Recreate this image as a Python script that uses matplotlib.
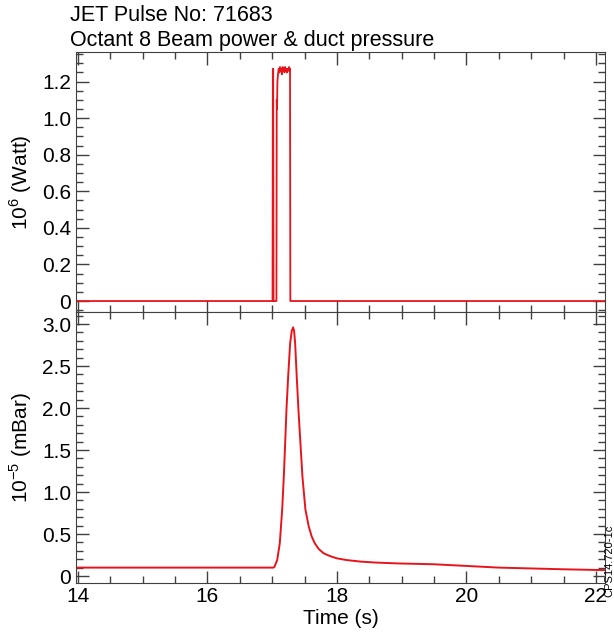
import numpy as np
import matplotlib
matplotlib.use('Agg')
import matplotlib.pyplot as plt
from matplotlib.ticker import MultipleLocator, FuncFormatter

plt.rcParams['font.family'] = ['Liberation Sans', 'DejaVu Sans']
plt.rcParams['mathtext.fontset'] = 'custom'
plt.rcParams['mathtext.rm'] = 'Liberation Sans'

# Beam power (10^6 W)
power_t = [13.97, 17.005, 17.01, 17.015, 17.02, 17.065, 17.07, 17.075, 17.08, 17.09,
           17.10, 17.11, 17.12, 17.13, 17.14, 17.15, 17.16, 17.17, 17.18, 17.19,
           17.20, 17.21, 17.22, 17.23, 17.24, 17.25, 17.26, 17.27, 17.275, 17.28, 22.14]
power_v = [0.0, 0.0, 1.27, 1.27, 0.0, 0.0, 1.10, 1.05, 1.20, 1.24,
           1.27, 1.25, 1.28, 1.26, 1.27, 1.24, 1.28, 1.26, 1.27, 1.25,
           1.28, 1.26, 1.27, 1.25, 1.27, 1.26, 1.28, 1.26, 1.27, 0.0, 0.0]

# Duct pressure (10^-5 mBar)
press_t = [13.97, 15.0, 16.0, 16.9, 17.02, 17.035, 17.077, 17.117, 17.154, 17.179,
           17.200, 17.220, 17.246, 17.277, 17.302, 17.323, 17.338, 17.354, 17.379,
           17.405, 17.436, 17.467, 17.513, 17.564, 17.61, 17.657, 17.72, 17.795,
           17.9, 18.0, 18.15, 18.36, 18.6, 18.93, 19.49, 20.0, 20.5, 21.0, 21.5, 22.14]
press_v = [0.10, 0.10, 0.10, 0.10, 0.10, 0.11, 0.19, 0.39, 0.79, 1.18,
           1.58, 1.98, 2.37, 2.77, 2.92, 2.96, 2.92, 2.77, 2.37,
           1.98, 1.58, 1.18, 0.79, 0.59, 0.47, 0.39, 0.32, 0.27,
           0.235, 0.21, 0.19, 0.172, 0.16, 0.15, 0.14, 0.12, 0.10, 0.09, 0.08, 0.07]

line_col = '#e8141c'
axis_col = '#404040'

fig = plt.figure(figsize=(6.14, 6.37), dpi=100)
ax1 = fig.add_axes([0.1238, 0.5102, 0.8616, 0.4082])
ax2 = fig.add_axes([0.1238, 0.0848, 0.8616, 0.4254])

ax1.plot(power_t, power_v, color=line_col, lw=1.3)
ax2.plot(press_t, press_v, color=line_col, lw=1.4)

fmt = FuncFormatter(lambda v, p: '0' if abs(v) < 1e-9 else '%.1f' % v)

for ax in (ax1, ax2):
    ax.set_xlim(13.97, 22.14)
    ax.xaxis.set_major_locator(MultipleLocator(2))
    ax.xaxis.set_minor_locator(MultipleLocator(0.5))
    ax.tick_params(which='both', direction='in', top=True, right=True,
                   color=axis_col, labelsize=15, width=1)
    ax.tick_params(which='major', length=9)
    ax.tick_params(which='minor', length=5)
    ax.yaxis.set_major_formatter(fmt)
    for s in ax.spines.values():
        s.set_color(axis_col)

ax1.set_ylim(-0.06, 1.362)
ax1.yaxis.set_major_locator(MultipleLocator(0.2))
ax1.yaxis.set_minor_locator(MultipleLocator(0.05))
ax1.tick_params(labelbottom=False)
ax1.set_ylabel('10$^{6}$ (Watt)', fontsize=15, labelpad=6)

ax2.set_ylim(-0.083, 3.143)
ax2.yaxis.set_major_locator(MultipleLocator(0.5))
ax2.yaxis.set_minor_locator(MultipleLocator(0.1))
ax2.set_ylabel('10$^{-5}$ (mBar)', fontsize=15, labelpad=6)
ax2.set_xlabel('Time (s)', fontsize=15, labelpad=2)
ax2.tick_params(axis='x', pad=3)

fig.text(0.114, 0.975, 'JET Pulse No: 71683', fontsize=15.5, va='center', ha='left')
fig.text(0.114, 0.937, 'Octant 8 Beam power & duct pressure', fontsize=15.5, va='center', ha='left')
fig.text(0.993, 0.12, 'CPS14.720-1c', fontsize=8, rotation=90, va='center', ha='center')

fig.savefig('out.png', dpi=100)
